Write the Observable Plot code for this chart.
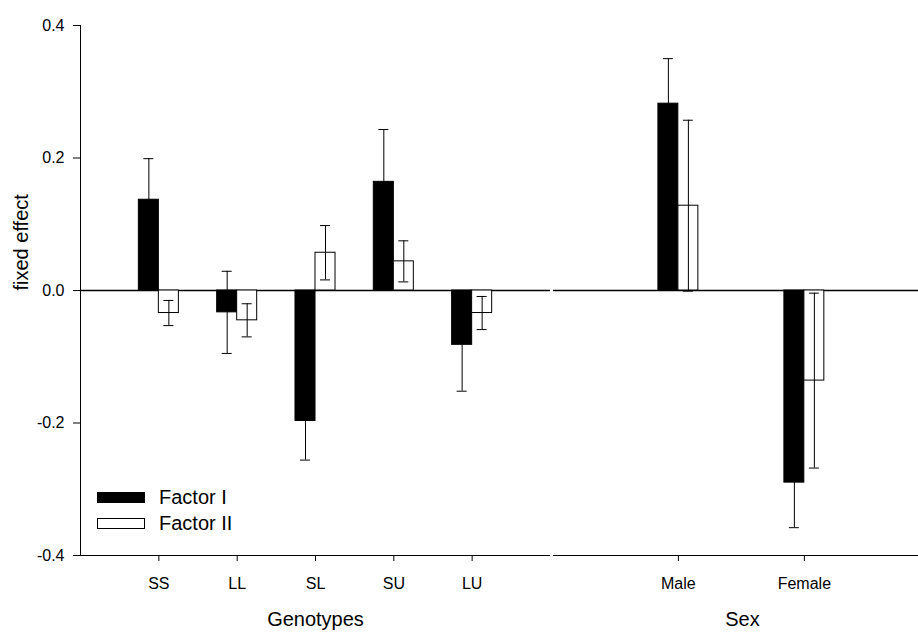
<!DOCTYPE html>
<html><head><meta charset="utf-8">
<script src="https://cdn.jsdelivr.net/npm/d3@7"></script>
<script src="https://cdn.jsdelivr.net/npm/@observablehq/plot@0.6"></script>
<style>
body{margin:0;background:#fff;}
#wrap{position:relative;width:918px;height:635px;display:flex;font-family:"Liberation Sans",Arial,sans-serif;background:#fff;}
#wrap svg{display:block;}
.legend{position:absolute;left:97px;top:484px;font-size:20px;color:#000;line-height:26px;}
.legend .row{display:flex;align-items:center;height:26px;}
.sw{width:48px;height:11px;box-sizing:border-box;border:1px solid #000;margin-right:14px;}
</style></head><body><div id="wrap"></div>
<script>
// ---- data ----
const seriesNames = ["Factor I", "Factor II"];
const genotypes = ["SS", "LL", "SL", "SU", "LU"];
const genoFactor1 = [0.137, -0.033, -0.197, 0.164, -0.082];
const genoFactor1Err = [0.062, 0.062, 0.059, 0.079, 0.070];
const genoFactor2 = [-0.034, -0.045, 0.057, 0.044, -0.034];
const genoFactor2Err = [0.019, 0.025, 0.041, 0.031, 0.025];
const sexes = ["Male", "Female"];
const sexFactor1 = [0.282, -0.290];
const sexFactor1Err = [0.068, 0.068];
const sexFactor2 = [0.128, -0.136];
const sexFactor2Err = [0.129, 0.132];
const yTicks = [-0.4, -0.2, 0.0, 0.2, 0.4];
const yLabel = "fixed effect";

function rows(cats, v1, e1, v2, e2) {
  return cats.flatMap((c, i) => [
    {cat: c, series: seriesNames[0], value: v1[i], err: e1[i]},
    {cat: c, series: seriesNames[1], value: v2[i], err: e2[i]}
  ]);
}

function panel({cats, data, width, marginLeft, xOpts, label, labelDx, showY, gapLeft}) {
  const f1 = data.filter(d => d.series === seriesNames[0]);
  const f2 = data.filter(d => d.series === seriesNames[1]);
  const lo = d => d.value - d.err, hi = d => d.value + d.err;
  return Plot.plot({
    width, height: 635,
    marginTop: 25, marginBottom: 80, marginLeft, marginRight: 0,
    style: {fontFamily: "Liberation Sans, Arial, sans-serif", fontSize: "16px", color: "#000", background: "#fff"},
    x: {type: "band", domain: cats, round: false, ...xOpts},
    y: {domain: [-0.4, 0.4], axis: showY ? undefined : null},
    marks: [
      Plot.ruleY([0], {stroke: "#000", strokeWidth: 1.3, insetLeft: gapLeft}),
      Plot.ruleY([-0.4], {stroke: "#000", insetLeft: gapLeft}),
      Plot.barY(f1, {x: "cat", y: "value", fill: "#000", stroke: "#000", insetRight: 20}),
      Plot.barY(f2, {x: "cat", y: "value", fill: "#fff", stroke: "#000", insetLeft: 20}),
      Plot.ruleX(f1, {x: "cat", y1: lo, y2: hi, dx: -10, stroke: "#000"}),
      Plot.ruleX(f2, {x: "cat", y1: lo, y2: hi, dx: 10, stroke: "#000"}),
      Plot.tickY(f1, {x: "cat", y: hi, insetLeft: 5, insetRight: 25, stroke: "#000"}),
      Plot.tickY(f1, {x: "cat", y: lo, insetLeft: 5, insetRight: 25, stroke: "#000"}),
      Plot.tickY(f2, {x: "cat", y: hi, insetLeft: 25, insetRight: 5, stroke: "#000"}),
      Plot.tickY(f2, {x: "cat", y: lo, insetLeft: 25, insetRight: 5, stroke: "#000"}),
      Plot.axisX({tickSize: 6, tickPadding: 16, label: null}),
      Plot.text([label], {frameAnchor: "bottom", dy: 70, dx: labelDx, fontSize: 20, fill: "#000"}),
      showY ? Plot.axisY({ticks: yTicks, tickFormat: d => d.toFixed(1), tickSize: 7, tickPadding: 9, label: null}) : null,
      showY ? Plot.text([yLabel], {frameAnchor: "left", rotate: -90, dx: -59, fontSize: 20, fill: "#000"}) : null,
      showY ? Plot.frame({anchor: "left", stroke: "#000"}) : null
    ]
  });
}

const wrap = document.getElementById("wrap");
wrap.appendChild(panel({
  cats: genotypes,
  data: rows(genotypes, genoFactor1, genoFactor1Err, genoFactor2, genoFactor2Err),
  width: 550, marginLeft: 80,
  xOpts: {paddingInner: 0.489, paddingOuter: 0.745, align: 0.5},
  label: "Genotypes", labelDx: 0, showY: true, gapLeft: 0
}));
wrap.appendChild(panel({
  cats: sexes,
  data: rows(sexes, sexFactor1, sexFactor1Err, sexFactor2, sexFactor2Err),
  width: 368, marginLeft: 0,
  xOpts: {paddingInner: 0.683, paddingOuter: 0.802, align: 0.534},
  label: "Sex", labelDx: 8, showY: false, gapLeft: 3
}));

const legend = document.createElement("div");
legend.className = "legend";
legend.innerHTML = seriesNames.map((s, i) =>
  `<div class="row"><div class="sw" style="background:${i === 0 ? "#000" : "#fff"}"></div><span>${s}</span></div>`
).join("");
wrap.appendChild(legend);
</script></body></html>
